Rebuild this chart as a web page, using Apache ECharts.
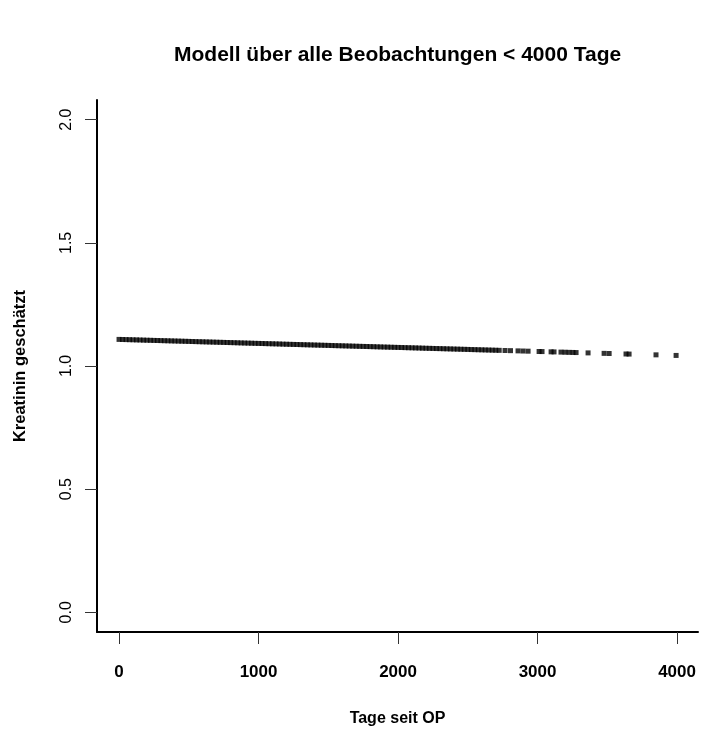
<!DOCTYPE html>
<html>
<head>
<meta charset="utf-8">
<script src="https://cdn.jsdelivr.net/npm/echarts@6/dist/echarts.min.js"></script>
<style>
html,body{margin:0;padding:0;background:#fff;}
#chart{width:725px;height:730px;}
</style>
</head>
<body>
<div id="chart"></div>
<script>
const titleText = "Modell über alle Beobachtungen < 4000 Tage";
const xName = "Tage seit OP";
const yName = "Kreatinin geschätzt";
const xTicks = [0, 1000, 2000, 3000, 4000];
const yTicks = [0, 0.5, 1.0, 1.5, 2.0];

const days = [
  0,25,50,75,100,125,150,175,200,225,250,275,300,325,350,375,400,425,450,475,
  500,525,550,575,600,625,650,675,700,725,750,775,800,825,850,875,900,925,950,975,
  1000,1025,1050,1075,1100,1125,1150,1175,1200,1225,1250,1275,1300,1325,1350,1375,1400,1425,1450,1475,
  1500,1525,1550,1575,1600,1625,1650,1675,1700,1725,1750,1775,1800,1825,1850,1875,1900,1925,1950,1975,
  2000,2025,2050,2075,2100,2125,2150,2175,2200,2225,2250,2275,2300,2325,2350,2375,2400,2425,2450,2475,
  2500,2525,2550,2575,2600,2625,2650,2675,2700,2725,
  2767,2806,2860,2896,2932,3011,3032,3097,3118,3168,3197,3226,3254,3276,3362,3477,3513,3634,3656,3849,3993
];
const kreatinin = [
  1.1080,1.1076,1.1072,1.1068,1.1064,1.1060,1.1056,1.1051,1.1047,1.1043,1.1039,1.1035,1.1031,1.1027,1.1023,1.1019,1.1015,1.1011,1.1007,1.1003,
  1.0999,1.0994,1.0990,1.0986,1.0982,1.0978,1.0974,1.0970,1.0966,1.0962,1.0958,1.0954,1.0950,1.0946,1.0942,1.0937,1.0933,1.0929,1.0925,1.0921,
  1.0917,1.0913,1.0909,1.0905,1.0901,1.0897,1.0893,1.0888,1.0884,1.0880,1.0876,1.0872,1.0868,1.0864,1.0860,1.0856,1.0852,1.0848,1.0844,1.0840,
  1.0836,1.0831,1.0827,1.0823,1.0819,1.0815,1.0811,1.0807,1.0803,1.0799,1.0795,1.0791,1.0787,1.0783,1.0778,1.0774,1.0770,1.0766,1.0762,1.0758,
  1.0754,1.0750,1.0746,1.0742,1.0738,1.0734,1.0730,1.0725,1.0721,1.0717,1.0713,1.0709,1.0705,1.0701,1.0697,1.0693,1.0689,1.0685,1.0681,1.0677,
  1.0673,1.0668,1.0664,1.0660,1.0656,1.0652,1.0648,1.0644,1.0640,1.0636,
  1.0629,1.0623,1.0614,1.0608,1.0602,1.0589,1.0586,1.0575,1.0572,1.0564,1.0559,1.0554,1.0550,1.0546,1.0532,1.0513,1.0507,1.0488,1.0484,1.0453,1.0429
];

const FONT = '"Liberation Sans", Arial, sans-serif';
const chart = echarts.init(document.getElementById('chart'), null, {renderer: 'canvas'});
chart.setOption({
  backgroundColor: '#ffffff',
  animation: false,
  title: {
    text: titleText,
    left: 174,
    top: 45,
    padding: 0,
    textStyle: {fontFamily: FONT, fontSize: 21, fontWeight: 'bold', color: '#000'}
  },
  grid: {left: 97, right: 27, top: 100, bottom: 98, containLabel: false, outerBoundsMode: 'none'},
  xAxis: {
    type: 'value',
    min: -158,
    max: 4150,
    name: xName,
    nameLocation: 'middle',
    nameGap: 79,
    nameTextStyle: {fontFamily: FONT, fontSize: 16, fontWeight: 'bold', color: '#000'},
    axisLine: {show: true, onZero: false, lineStyle: {color: '#000', width: 2}},
    axisTick: {show: true, inside: false, length: 12, customValues: xTicks, lineStyle: {color: '#333', width: 1}},
    axisLabel: {show: true, customValues: xTicks, margin: 32, fontFamily: FONT, fontSize: 17, fontWeight: 'bold', color: '#000',
      formatter: v => String(v)},
    splitLine: {show: false}
  },
  yAxis: {
    type: 'value',
    min: -0.08,
    max: 2.08,
    name: yName,
    nameLocation: 'middle',
    nameRotate: 90,
    nameGap: 68,
    nameTextStyle: {fontFamily: FONT, fontSize: 16.5, fontWeight: 'bold', color: '#000'},
    axisLine: {show: true, onZero: false, lineStyle: {color: '#000', width: 2}},
    axisTick: {show: true, inside: false, length: 12, customValues: yTicks, lineStyle: {color: '#333', width: 1}},
    axisLabel: {show: true, customValues: yTicks, rotate: 90, margin: 22, fontFamily: FONT, fontSize: 16, color: '#000',
      formatter: v => v.toFixed(1)},
    splitLine: {show: false}
  },
  series: [{
    type: 'scatter',
    symbol: 'rect',
    symbolSize: 5,
    itemStyle: {color: '#000'},
    data: days.map((d, i) => [d, kreatinin[i]])
  }]
});
</script>
</body>
</html>
